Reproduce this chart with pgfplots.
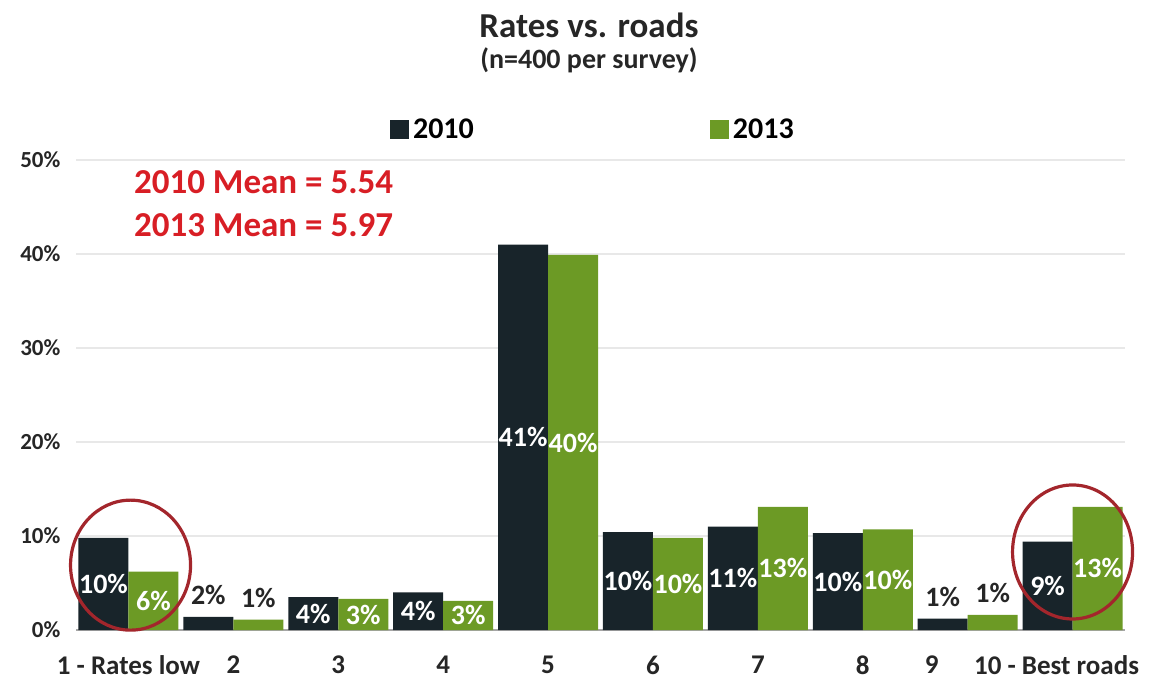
\documentclass[border=0pt]{standalone}
\usepackage{pgfplots}
\pgfplotsset{compat=1.18}
\usepackage{fontspec}
\setmainfont{Carlito}
\definecolor{c2010}{HTML}{18242A}
\definecolor{c2013}{HTML}{6C9A25}
\definecolor{meanred}{HTML}{D81E25}
\definecolor{ring}{HTML}{A3262C}

\begin{document}
\begin{tikzpicture}
\begin{axis}[
  scale only axis, width=524.5pt, height=235pt, clip=false,
  xmin=0.5, xmax=10.5, ymin=0, ymax=50,
  ybar=0pt, bar width=25pt,
  axis x line*=bottom, axis y line*=left,
  y axis line style={draw=none},
  x axis line style={gray!70, line width=0.8pt},
  xtick={1,...,10},
  xticklabels={{1 - Rates low},2,3,4,5,6,7,8,{\hspace*{-36pt}9},{\hspace*{-16pt}10 - Best roads}},
  minor xtick={0.5,1.5,...,10.5},
  xtick style={draw=none},
  minor x tick style={gray!70, line width=0.8pt},
  tick align=outside, minor tick length=4pt,
  ytick={0,10,...,50}, ytick style={draw=none},
  yticklabel={\pgfmathprintnumber{\tick}\%},
  /pgf/number format/assume math mode=true,
  ymajorgrids, grid style={gray!18, line width=0.8pt},
  xticklabel style={font=\bfseries\fontsize{13.5}{15}\selectfont, text=black!85, yshift=-5pt},
  yticklabel style={font=\bfseries\fontsize{11.5}{13}\selectfont, text=black!85},
  point meta=explicit symbolic,
  visualization depends on={y \as \rawy},
  nodes near coords={\pgfmathparse{\rawy<2}\ifdim\pgfmathresult pt>0.5pt\color{black!85}\else\color{white}\fi\pgfplotspointmeta\%},
  every node near coord/.append style={anchor=center, inner sep=0pt,
    font=\bfseries\fontsize{14}{16}\selectfont,
    yshift={(\rawy<2) ? 11 : -\rawy*2.35}},
  legend columns=2,
  legend style={draw=none, fill=none, at={(rel axis cs:0.299,1)}, anchor=west, yshift=15pt,
    font=\bfseries\fontsize{15}{17}\selectfont, inner sep=0pt,
    /tikz/every even column/.append style={column sep=116pt}},
  legend image code/.code={\fill[#1, draw=none] (0pt,-4.5pt) rectangle (9.5pt,5pt);},
]
\addplot[fill=c2010, draw=none] coordinates {
  (1,9.8) [10] (2,1.4) [2] (3,3.5) [4] (4,4.0) [4] (5,41.0) [41]
  (6,10.4) [10] (7,11.0) [11] (8,10.3) [10] (9,1.2) [1] (10,9.4) [9]
};
\addlegendentry{2010}
\addplot[fill=c2013, draw=none] coordinates {
  (1,6.2) [6] (2,1.1) [1] (3,3.3) [3] (4,3.1) [3] (5,39.9) [40]
  (6,9.8) [10] (7,13.1) [13] (8,10.7) [10] (9,1.6) [1] (10,13.1) [13]
};
\addlegendentry{2013}

\draw[ring, line width=1.6pt] (axis cs:1.02,6.9) ellipse [x radius=30pt, y radius=32.5pt];
\draw[ring, line width=1.6pt] (axis cs:10.0,8.3) ellipse [x radius=30pt, y radius=33.5pt];

\node[font=\bfseries\fontsize{17.5}{20}\selectfont, text=black!85, yshift=67.5pt] at (rel axis cs:0.489,1) {Rates vs. roads};
\node[font=\bfseries\fontsize{14}{16}\selectfont, text=black!85, yshift=50pt] at (rel axis cs:0.489,1) {(n=400 per survey)};
\node[font=\bfseries\fontsize{17.5}{20}\selectfont, text=meanred, anchor=west, inner sep=0pt] at (axis cs:1.05,47.6) {2010 Mean = 5.54};
\node[font=\bfseries\fontsize{17.5}{20}\selectfont, text=meanred, anchor=west, inner sep=0pt] at (axis cs:1.05,43.1) {2013 Mean = 5.97};

\coordinate (sw) at (rel axis cs:0,0);
\coordinate (ne) at (rel axis cs:1,1);
\end{axis}
\path ([shift={(-38pt,-24.5pt)}]sw) rectangle ([shift={(17pt,80pt)}]ne);
\end{tikzpicture}
\end{document}
